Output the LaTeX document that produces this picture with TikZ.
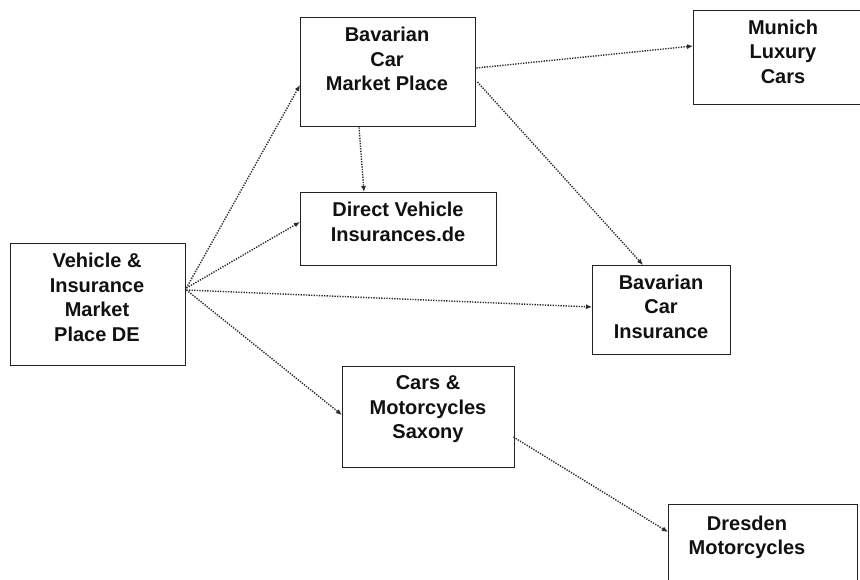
\documentclass[tikz,border=0pt]{standalone}
\usepackage{fontspec}
\setmainfont{Liberation Sans}
\usetikzlibrary{arrows.meta,calc}
\definecolor{inkbox}{HTML}{222222}
\definecolor{inkline}{HTML}{2A2A2A}
\definecolor{inktext}{HTML}{111111}
\tikzset{
  box/.style={draw=inkbox, line width=1.4pt, fill=none, inner sep=0pt, anchor=north west},
  caption/.style={anchor=north, inner sep=0pt, align=center, text=inktext,
    font={\fontsize{20}{24.5}\selectfont\bfseries}},
  link/.style={draw=inkline, line width=1.4pt, dash pattern=on 1.3pt off 1.3pt,
    -{Latex[length=6pt,width=5pt]}}
}
\begin{document}
\begin{tikzpicture}[x=1pt,y=-1pt]
\useasboundingbox (0,0) rectangle (860,580);
\clip (0,0) rectangle (860,580);
\fill[white] (0,0) rectangle (860,580);

% boxes
\node[box, minimum width=175pt, minimum height=122pt] (vim)  at (10,243)  {};
\node[box, minimum width=175pt, minimum height=109pt] (bcmp) at (300,17)  {};
\node[box, minimum width=196pt, minimum height=73pt]  (dvi)  at (300,192) {};
\node[box, minimum width=180pt, minimum height=94pt]  (mlc)  at (693,10)  {};
\node[box, minimum width=138pt, minimum height=89pt]  (bci)  at (592,265) {};
\node[box, minimum width=172pt, minimum height=101pt] (cms)  at (342,366) {};
\node[box, minimum width=189pt, minimum height=100pt] (dm)   at (668,504) {};

% captions
\node[caption] (tvim)  at (97,253.1)  {Vehicle \&\\Insurance\\Market\\Place DE};
\node[caption] (tbcmp) at (387,27.1)  {Bavarian\\Car\\Market Place};
\node[caption] (tdvi)  at (398,202.1) {Direct Vehicle\\Insurances.de};
\node[caption] (tmlc)  at (783,19.6)  {Munich\\Luxury\\Cars};
\node[caption] (tbci)  at (661,274.6) {Bavarian\\Car\\Insurance};
\node[caption] (tcms)  at (428,375.6) {Cars \&\\Motorcycles\\Saxony};
\node[caption] (tdm)   at (747,515.6) {Dresden\\Motorcycles};

% connector ends
\coordinate (vimA) at ($(vim.north east)+(0,45)$);
\coordinate (vimB) at ($(vim.north east)+(0,47)$);
\coordinate (bcmpIn)  at ($(bcmp.north west)+(0,68)$);
\coordinate (bcmpOutR) at ($(bcmp.north east)+(0,51)$);
\coordinate (bcmpOutD) at ($(bcmp.north east)+(1,65)$);
\coordinate (bcmpOutB) at ($(bcmp.south west)+(59,0)$);
\coordinate (dviIn)   at ($(dvi.north west)+(0,30)$);
\coordinate (dviTop)  at ($(dvi.north west)+(64,0)$);
\coordinate (mlcIn)   at ($(mlc.north west)+(0,36)$);
\coordinate (bciIn)   at ($(bci.north west)+(0,42)$);
\coordinate (bciTop)  at ($(bci.north west)+(51,0)$);
\coordinate (cmsIn)   at ($(cms.north west)+(0,49)$);
\coordinate (cmsOut)  at ($(cms.north east)+(-2,71)$);
\coordinate (dmIn)    at ($(dm.north west)+(0,28)$);

% connectors
\draw[link] (vimA) -- (bcmpIn);
\draw[link] (vimA) -- (dviIn);
\draw[link] (vimB) -- (bciIn);
\draw[link] (vimB) -- (cmsIn);
\draw[link] (bcmpOutB) -- (dviTop);
\draw[link] (bcmpOutR) -- (mlcIn);
\draw[link] (bcmpOutD) -- (bciTop);
\draw[link] (cmsOut) -- (dmIn);
\end{tikzpicture}
\end{document}
